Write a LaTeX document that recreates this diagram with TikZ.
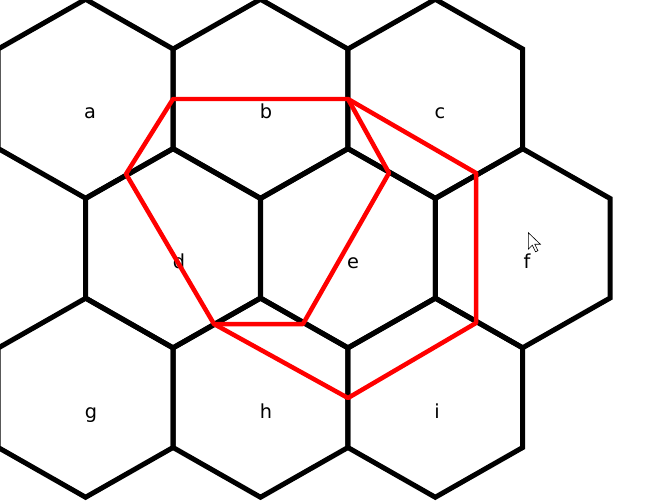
\documentclass[tikz,border=0pt]{standalone}
\usepackage{fontspec}
\setmainfont{DejaVu Sans}
\begin{document}
\begin{tikzpicture}[x=0.02cm,y=-0.02cm,
  hexline/.style={draw=black,line width=0.1cm},
  redline/.style={draw=red,line width=0.09cm,line join=round},
  lab/.style={anchor=base,inner sep=0pt,font=\fontsize{11}{13}\selectfont},
  cursorshape/.style={draw=black,fill=white,line width=0.35pt,line join=miter}]
\useasboundingbox (0,0) rectangle (645,500);
\clip (0,0) rectangle (645,500);
\fill[white] (0,0) rectangle (645,500);
% hexagons
\foreach \cx/\cy in {85.6/99,260.5/99,435.3/99,173/248.5,348/248.5,522.7/248.5,85.6/398,260.5/398,435.3/398}{
  \draw[hexline] (\cx,\cy) ++(0,-99.75) -- ++(87.4,49.75) -- ++(0,99.5) -- ++(-87.4,49.75)
    -- ++(-87.4,-49.75) -- ++(0,-99.5) -- cycle;
}
% labels
\node[lab] (a) at (90,118) {a};
\node[lab] (b) at (266,118) {b};
\node[lab] (c) at (440,118) {c};
\node[lab] (d) at (179,268) {d};
\node[lab] (e) at (353,268) {e};
\node[lab] (f) at (527,268) {f};
\node[lab] (g) at (91,418) {g};
\node[lab] (h) at (266,418) {h};
\node[lab] (i) at (437,418) {i};
% red figure
\coordinate (p1) at (173,99);
\coordinate (p2) at (348,99);
\coordinate (p3) at (476,173);
\coordinate (p4) at (476,323);
\coordinate (p5) at (348,398);
\coordinate (p6) at (214,324);
\coordinate (p7) at (126,174);
\coordinate (q) at (389,173);
\coordinate (r) at (303,324);
\draw[redline] (p1) -- (p2) -- (p3) -- (p4) -- (p5) -- (p6) -- (p7) -- cycle;
\draw[redline] (p2) -- (q) -- (r) -- (p6);
% mouse cursor
\draw[cursorshape] (528.3,232.7) -- ++(0,16.5) -- ++(4,-4) -- ++(3.2,6.6) -- ++(2.4,-1.1) -- ++(-3.1,-6.4) -- ++(5.6,0) -- cycle;
\end{tikzpicture}
\end{document}
